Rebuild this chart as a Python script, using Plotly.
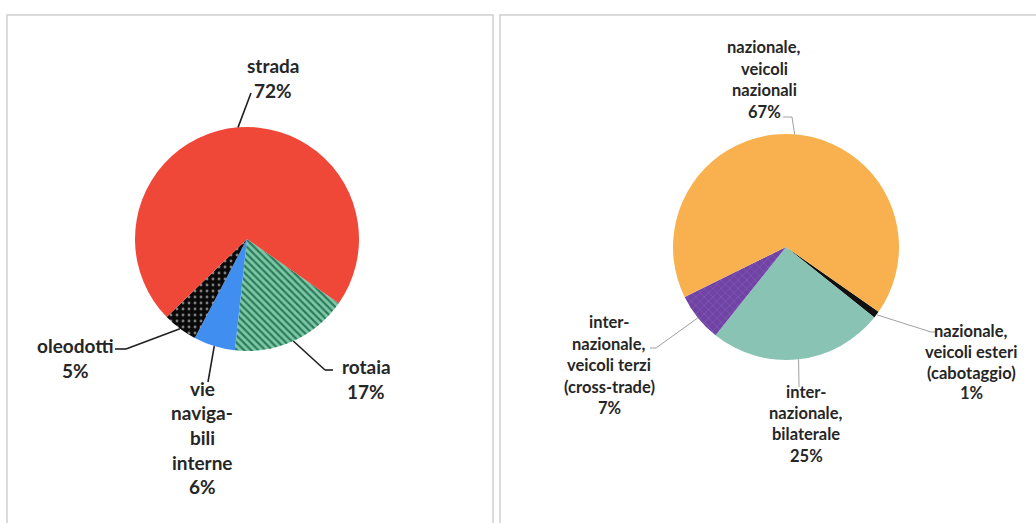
import math
import plotly.graph_objects as go

W, H = 1036, 523

# Ripartizione modale del trasporto merci (%)
modi_labels = ["rotaia", "vie\nnaviga-\nbili\ninterne", "oleodotti", "strada"]
modi_values = [17, 6, 5, 72]
modi_colors = ["#7CC9A8", "#3F8EF0", "#0A0A0A", "#EF4838"]
modi_shapes = ["\\", "", ".", ""]
modi_fg = ["#2E7A5A", "#3F8EF0", "#7E7E7E", "#EF4838"]
modi_psize = [5, 5, 6, 5]
modi_psol = [0.45, 0.3, 0.18, 0.3]

# Trasporto stradale per tipo di operazione (%)
strada_labels = [
    "nazionale,\nveicoli esteri\n(cabotaggio)",
    "inter-\nnazionale,\nbilaterale",
    "inter-\nnazionale,\nveicoli terzi\n(cross-trade)",
    "nazionale,\nveicoli\nnazionali",
]
strada_values = [1, 25, 7, 67]
strada_colors = ["#111111", "#88C3B4", "#6F42A4", "#F9B14F"]
strada_shapes = ["", "", "x", ""]
strada_fg = ["#111111", "#88C3B4", "#8C6CC0", "#F9B14F"]
strada_psize = [6, 6, 6, 6]
strada_psol = [0.15, 0.15, 0.15, 0.15]

ROTATION = 125

# pie geometry in pixels: centre x, centre y, radius
PIES = [
    dict(cx=247, cy=239, r=112),
    dict(cx=786, cy=247, r=113),
]

# label placement per slice: text centre x, first line y, line step,
# leader line end point(s)
MODI_LAYOUT = [
    dict(x=366, y=366, step=25.5, path=[(325, 370), (333, 370)]),
    dict(x=202, y=388, step=24.7, path=[(208, 382)]),
    dict(x=75, y=345, step=25, path=[(126, 349), (115, 349)]),
    dict(x=273, y=65, step=25, path=[(251, 93)]),
]
STRADA_LAYOUT = [
    dict(x=971, y=331, step=20.8, path=[(931, 332), (936, 332)]),
    dict(x=806, y=392, step=21.2, path=[(799, 387)]),
    dict(x=609, y=322, step=21.5, path=[(656, 348), (650, 348)]),
    dict(x=764, y=47, step=21.7, path=[(792, 117), (783, 117)]),
]


def px(x):
    return x / W


def py(y):
    return 1 - y / H


def mid_points(values, geom):
    total = sum(values)
    acc = 0
    pts = []
    for v in values:
        a = math.radians(ROTATION + 360 * (acc + v / 2) / total)
        pts.append((geom["cx"] + geom["r"] * math.sin(a),
                    geom["cy"] - geom["r"] * math.cos(a)))
        acc += v
    return pts


fig = go.Figure()

for labels, values, colors, shapes, fg, psize, psol, geom in [
    (modi_labels, modi_values, modi_colors, modi_shapes, modi_fg,
     modi_psize, modi_psol, PIES[0]),
    (strada_labels, strada_values, strada_colors, strada_shapes, strada_fg,
     strada_psize, strada_psol, PIES[1]),
]:
    fig.add_trace(go.Pie(
        labels=[l.replace("\n", " ") for l in labels],
        values=values,
        sort=False,
        direction="clockwise",
        rotation=ROTATION,
        textinfo="none",
        hoverinfo="label+percent",
        showlegend=False,
        marker=dict(
            colors=colors,
            line=dict(width=0),
            pattern=dict(shape=shapes, fgcolor=fg, bgcolor=colors,
                         fillmode="replace", size=psize, solidity=psol),
        ),
        domain=dict(
            x=[px(geom["cx"] - geom["r"]), px(geom["cx"] + geom["r"])],
            y=[py(geom["cy"] + geom["r"]), py(geom["cy"] - geom["r"])],
        ),
    ))

shapes = []
annotations = []

# panel frames
for x0, x1 in [(7, 493), (500, 1045)]:
    shapes.append(dict(type="rect", xref="paper", yref="paper",
                       x0=px(x0), x1=px(x1), y0=py(530), y1=py(15),
                       line=dict(color="#CFCFCF", width=1.5)))


def add_labels(labels, values, geom, layout, size, lcolor, lwidth):
    for lab, v, p0, lay in zip(labels, values, mid_points(values, geom), layout):
        pts = [p0] + lay["path"]
        for (xa, ya), (xb, yb) in zip(pts[:-1], pts[1:]):
            shapes.append(dict(type="line", xref="paper", yref="paper",
                               x0=px(xa), y0=py(ya), x1=px(xb), y1=py(yb),
                               line=dict(color=lcolor, width=lwidth)))
        lines = lab.split("\n") + [f"{v}%"]
        for i, t in enumerate(lines):
            annotations.append(dict(
                text=t, xref="paper", yref="paper",
                x=px(lay["x"]), y=py(lay["y"] + i * lay["step"]),
                xanchor="center", yanchor="middle", showarrow=False,
                font=dict(family="Lato", size=size, color="#262626", weight="bold"),
            ))


add_labels(modi_labels, modi_values, PIES[0], MODI_LAYOUT, 19, "#202020", 1.6)
add_labels(strada_labels, strada_values, PIES[1], STRADA_LAYOUT, 16.5, "#A0A0A0", 1)

fig.update_layout(
    width=W, height=H,
    margin=dict(l=0, r=0, t=0, b=0),
    paper_bgcolor="white",
    plot_bgcolor="white",
    shapes=shapes,
    annotations=annotations,
)

fig.write_html("out.html")
